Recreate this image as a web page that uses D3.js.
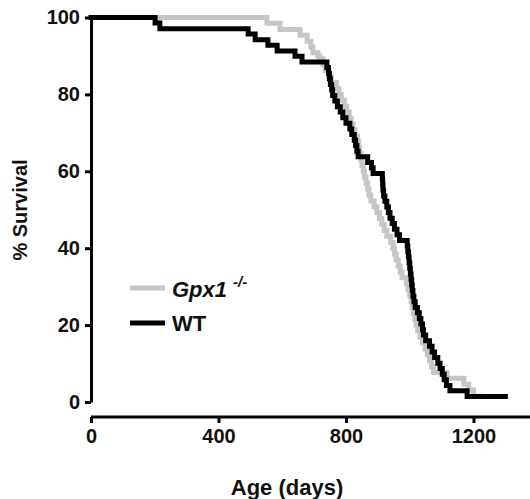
<!DOCTYPE html>
<html>
<head>
<meta charset="utf-8">
<script src="https://cdn.jsdelivr.net/npm/d3@7"></script>
<style>
  body { margin: 0; background: #fff; }
  text { font-family: "Liberation Sans", Arial, sans-serif; font-weight: bold; fill: #111; }
</style>
</head>
<body>
<div id="chart"></div>
<script>
const width = 530, height = 499;

// WT survival steps: [age (days), % survival after the step]
const wtAge = [0, 201, 216, 493, 515, 555, 584, 640, 662,
  740, 745, 748, 751, 755, 758, 765, 773, 782, 790, 800, 812, 818, 826, 830, 834, 838,
  868, 880, 885, 914, 915, 916, 918, 922, 928, 933, 938, 945, 952, 960, 968,
  992, 994, 996, 998, 1000, 1002, 1004, 1006, 1008, 1010, 1013, 1017, 1024, 1030, 1035, 1040,
  1043, 1050, 1062, 1070, 1078, 1088, 1095, 1102, 1108, 1115, 1126, 1180, 1300];
const wtSurv = [100, 98.6, 97.1, 95.7, 94.2, 92.8, 91.3, 89.9, 88.4,
  87.0, 85.5, 84.1, 82.6, 81.2, 79.7, 78.3, 76.8, 75.4, 73.9, 72.5, 71.0, 69.6, 68.1, 66.7, 65.2, 63.8,
  62.3, 60.9, 59.4, 58.0, 56.5, 55.1, 53.6, 52.2, 50.7, 49.3, 47.8, 46.4, 44.9, 43.5, 42.0,
  40.6, 39.1, 37.7, 36.2, 34.8, 33.3, 31.9, 30.4, 29.0, 27.5, 26.1, 24.6, 23.2, 21.7, 20.3, 18.8,
  17.4, 15.9, 14.5, 13.0, 11.6, 10.1, 8.7, 7.2, 5.8, 4.3, 2.9, 1.4, 1.4];

// Gpx1-/- survival steps
const koAge = [0, 552, 593, 656, 678, 690, 696, 712, 718,
  728, 735, 745, 755, 770, 778, 785, 795, 802, 810, 816, 822, 828, 836, 840, 843, 847, 850,
  854, 858, 863, 868, 872, 878, 888, 897, 905, 912, 920, 928, 940, 947, 952, 958, 964, 970,
  976, 990, 995, 1000, 1004, 1008, 1012, 1016, 1020, 1025, 1032, 1040, 1048, 1055, 1062, 1068,
  1075, 1117, 1170, 1185, 1200, 1235];
const koSurv = [100, 98.5, 96.9, 95.4, 93.8, 92.3, 90.8, 90.0, 89.2,
  87.7, 86.2, 84.6, 83.1, 81.5, 80.0, 78.5, 76.9, 75.4, 73.8, 72.3, 70.8, 69.2, 67.7, 66.2, 64.6, 63.1, 61.5,
  60.0, 58.5, 56.9, 55.4, 53.8, 52.3, 50.8, 49.2, 47.7, 46.2, 44.6, 43.1, 41.5, 40.0, 38.5, 36.9, 35.4, 33.8,
  32.3, 30.8, 29.2, 27.7, 26.2, 24.6, 23.1, 21.5, 20.0, 18.5, 16.9, 15.4, 13.8, 12.3, 10.8, 9.2,
  7.7, 6.2, 4.6, 3.1, 1.5, 1.5];

const xTicks = [0, 400, 800, 1200];
const yTicks = [0, 20, 40, 60, 80, 100];

const svg = d3.select("#chart").append("svg")
  .attr("width", width)
  .attr("height", height);

const x = d3.scaleLinear().domain([0, 1200]).range([91, 473.5]);
const y = d3.scaleLinear().domain([0, 100]).range([402, 17.5]);

// y axis
const yAxis = svg.append("g")
  .attr("transform", `translate(${x(0)},0)`)
  .call(d3.axisLeft(y).tickValues(yTicks).tickSize(6).tickPadding(5).tickSizeOuter(0));
yAxis.select(".domain").attr("stroke", "#000").attr("stroke-width", 3);
yAxis.selectAll(".tick line").attr("stroke", "#000").attr("stroke-width", 3);
yAxis.selectAll(".tick text").style("font-size", "20px").attr("fill", "#111");

// x axis (offset below the plot)
const xAxis = svg.append("g")
  .attr("transform", "translate(0,417)")
  .call(d3.axisBottom(x).tickValues(xTicks).tickFormat(d3.format("d")).tickSize(6).tickPadding(6).tickSizeOuter(0));
xAxis.select(".domain").attr("d", `M${x(0)},0H${width}`).attr("stroke", "#000").attr("stroke-width", 3);
xAxis.selectAll(".tick line").attr("stroke", "#000").attr("stroke-width", 3);
xAxis.selectAll(".tick text").style("font-size", "20px").attr("fill", "#111");

// axis titles
svg.append("text")
  .attr("x", 287).attr("y", 495)
  .attr("text-anchor", "middle")
  .style("font-size", "22px")
  .text("Age (days)");

svg.append("text")
  .attr("transform", "translate(27,210) rotate(-90)")
  .attr("text-anchor", "middle")
  .style("font-size", "20px")
  .text("% Survival");

// survival curves
const line = d3.line()
  .x(d => x(d[0]))
  .y(d => y(d[1]))
  .curve(d3.curveStepAfter);

svg.append("path")
  .datum(d3.zip(koAge, koSurv))
  .attr("d", line)
  .attr("fill", "none")
  .attr("stroke", "#c6c6c6")
  .attr("stroke-width", 5)
  .attr("stroke-linejoin", "miter");

svg.append("path")
  .datum(d3.zip(wtAge, wtSurv))
  .attr("d", line)
  .attr("fill", "none")
  .attr("stroke", "#000")
  .attr("stroke-width", 5)
  .attr("stroke-linecap", "square")
  .attr("stroke-linejoin", "miter");

// legend
const legend = svg.append("g");
legend.append("line")
  .attr("x1", 130).attr("x2", 165).attr("y1", 288).attr("y2", 288)
  .attr("stroke", "#c6c6c6").attr("stroke-width", 5);
const gpx = legend.append("text")
  .attr("x", 172).attr("y", 297)
  .style("font-size", "22px")
  .style("font-style", "italic");
gpx.append("tspan").text("Gpx1");
gpx.append("tspan").attr("dx", 6).attr("dy", -10).style("font-size", "15px").text("-/-");

legend.append("line")
  .attr("x1", 130).attr("x2", 165).attr("y1", 323).attr("y2", 323)
  .attr("stroke", "#000").attr("stroke-width", 5);
legend.append("text")
  .attr("x", 172).attr("y", 331)
  .style("font-size", "22px")
  .text("WT");
</script>
</body>
</html>
